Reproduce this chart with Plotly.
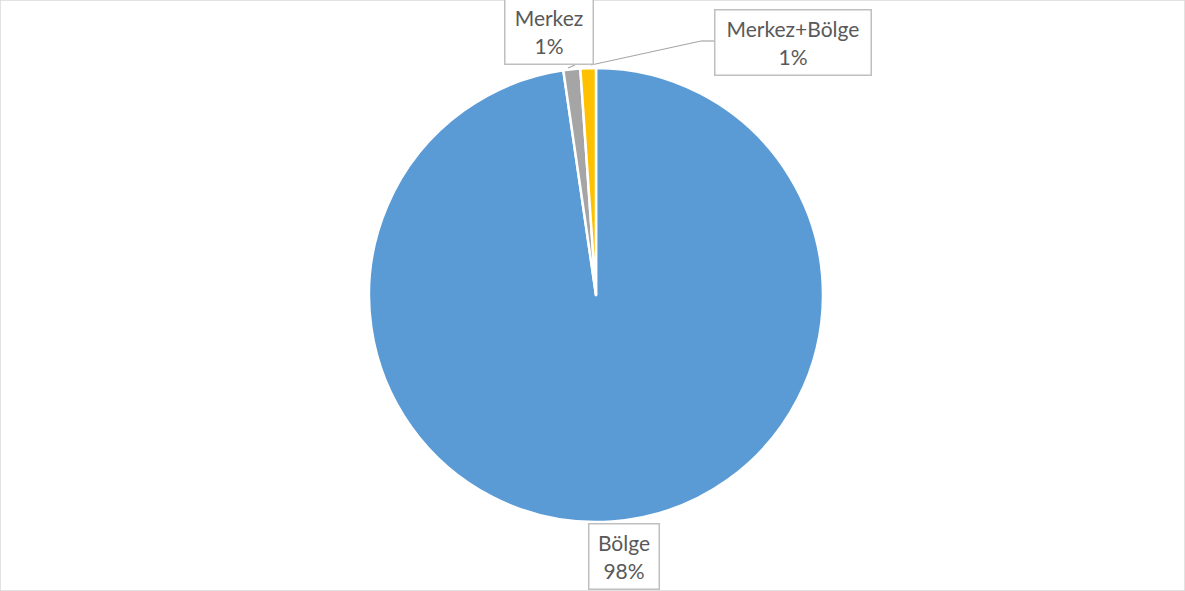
import plotly.graph_objects as go

labels = ["Bölge", "Merkez", "Merkez+Bölge"]
values = [97.7, 1.2, 1.1]
colors = ["#5B9BD5", "#A5A5A5", "#FFC000"]

W, H = 1185, 591
cx, cy, r = 596, 295, 227

fig = go.Figure(go.Pie(
    labels=labels, values=values, sort=False, direction="clockwise", rotation=0,
    marker=dict(colors=colors, line=dict(color="white", width=2.5)),
    textinfo="none", hoverinfo="label+percent", showlegend=False,
    domain=dict(x=[(cx - r) / W, (cx + r) / W], y=[(H - cy - r) / H, (H - cy + r) / H]),
))

total = sum(values)
pcts = [f"{round(v / total * 100)}%" for v in values]

# label boxes: (center x, center y, box width) in pixels
boxes = {"Bölge": (624, 556, 72), "Merkez": (549, 32, 90), "Merkez+Bölge": (793, 43, 158)}
font = dict(family="Lato, Carlito, sans-serif", size=21, color="#595959")
for lab, pct in zip(labels, pcts):
    bx, by, bw = boxes[lab]
    fig.add_annotation(
        x=bx / W, y=1 - by / H, xref="paper", yref="paper", xanchor="center", yanchor="middle",
        text=f"{lab}<br>{pct}", showarrow=False, font=font, align="center",
        bgcolor="white", bordercolor="#BFBFBF", borderwidth=1.5, borderpad=3,
        width=bw - 9, height=58,
    )

def P(x, y):
    return x / W, 1 - y / H

# leader lines
for (x0, y0), (x1, y1) in [((714, 41), (701, 41)), ((701, 41), (591, 65)), ((575, 65), (568, 68))]:
    a, b = P(x0, y0); c, d = P(x1, y1)
    fig.add_shape(type="line", xref="paper", yref="paper", x0=a, y0=b, x1=c, y1=d,
                  line=dict(color="#A6A6A6", width=1.2))

fig.add_shape(type="rect", xref="paper", yref="paper", x0=0, y0=0, x1=1, y1=1,
              line=dict(color="#D9D9D9", width=1.5))

fig.update_layout(width=W, height=H, margin=dict(l=0, r=0, t=0, b=0),
                  paper_bgcolor="white", plot_bgcolor="white")
fig.write_html("out.html", config={"displayModeBar": False},
               post_script="document.body.style.margin='0px';document.body.style.overflow='hidden';")
